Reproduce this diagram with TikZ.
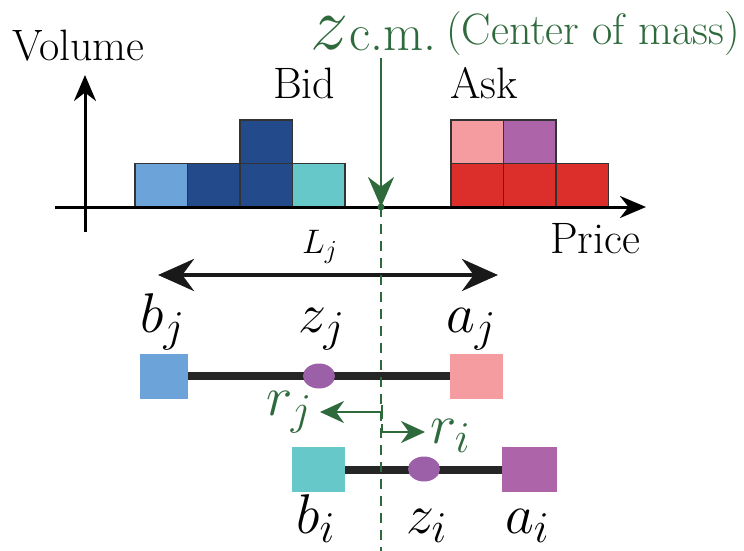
\documentclass[tikz,border=0pt]{standalone}
\usepackage{fix-cm}
\usepackage{fontspec}
\newfontfamily\tms{Latin Modern Roman}
\DeclareMathSizes{56}{56}{44}{36}
\DeclareMathSizes{34}{34}{26}{20}
\usetikzlibrary{arrows.meta,shapes.geometric}
\definecolor{gr}{HTML}{2E6A3C}
\definecolor{lblue}{HTML}{6CA3D8}
\definecolor{dblue}{HTML}{234B8C}
\definecolor{tealc}{HTML}{66C8C8}
\definecolor{pinkc}{HTML}{F49CA0}
\definecolor{purpc}{HTML}{AE64A8}
\definecolor{redc}{HTML}{DC2F2C}
\definecolor{ellc}{HTML}{9B60A8}
\tikzset{
  hsq/.style={draw=black!80, line width=1.5pt},
  txt/.style={inner sep=0pt, anchor=base west, font=\tms\fontsize{44}{50}\selectfont},
  mlab/.style={inner sep=0pt, anchor=base west, font=\fontsize{56}{60}\selectfont},
  endsq/.style={rectangle, inner sep=0pt, minimum width=53pt, minimum height=45pt},
  dot/.style={ellipse, inner sep=0pt, minimum width=32pt, minimum height=25pt, fill=ellc},
  barline/.style={line width=8pt, black!85},
  axis/.style={line width=3pt, -{Stealth[length=26pt,width=22pt]}},
  grline/.style={gr, line width=2.5pt},
  grtip/.style={-{Stealth[length=24pt,width=22pt]}}
}
\begin{document}
\begin{tikzpicture}[x=1pt,y=-1pt]
\useasboundingbox (0,0) rectangle (744,551);
% histogram bid
\foreach \k/\c in {0/lblue,1/dblue,2/dblue,3/tealc}{
  \draw[hsq, fill=\c] (135+\k*52.5,207) rectangle ++(52.5,-43.5);
}
\draw[hsq, fill=dblue] (240,163.5) rectangle ++(52.5,-43.5);
% histogram ask
\foreach \k in {0,1,2}{
  \draw[hsq, fill=redc] (451+\k*52.5,207) rectangle ++(52.5,-43.5);
}
\draw[hsq, fill=pinkc] (451,163.5) rectangle ++(52.5,-43.5);
\draw[hsq, fill=purpc] (503.5,163.5) rectangle ++(52.5,-43.5);
% axes
\coordinate (xs) at (55,207);
\coordinate (xe) at (646,207);
\coordinate (ys) at (85,232);
\coordinate (ye) at (85,75);
\draw[axis] (xs) -- (xe);
\draw[axis] (ys) -- (ye);
\node[txt] (vol) at (12,60) {Volume};
\node[txt] (bid) at (273,98) {Bid};
\node[txt] (ask) at (450,98) {Ask};
\node[txt] (price) at (550,253) {Price};
% centre of mass
\node[inner sep=0pt, anchor=base west, text height=30pt, text depth=0pt, font=\fontsize{76}{80}\selectfont, text=gr] (zcm) at (310,49) {$z$};
\node[inner sep=0pt, anchor=base west, font=\tms\fontsize{52}{56}\selectfont, text=gr] (cm) at (349,51) {c.m.};
\node[txt, text=gr] (com) at (446,45) {(Center of mass)};
\coordinate (gtop) at (381,58);
\coordinate (gdot) at (381,207);
\coordinate (gbot) at (381,551);
\draw[gr, line width=2.5pt, -{Stealth[length=30pt,width=26pt]}] (gtop) -- (gdot);
\fill[gr] (gdot) circle (3.5);
% L_j
\node[inner sep=0pt, anchor=base west, font=\fontsize{34}{38}\selectfont] (lj) at (302,253) {$L_j$};
\coordinate (ll) at (158,275);
\coordinate (lr) at (498,275);
\draw[line width=4.5pt, black!90, {Stealth[length=36pt,width=32pt]}-{Stealth[length=36pt,width=32pt]}] (ll) -- (lr);
% bar j
\node[endsq, fill=lblue, minimum width=48pt] (bjs) at (164,376) {};
\node[endsq, fill=pinkc] (ajs) at (476.5,376) {};
\draw[barline] (bjs.east) -- (ajs.west);
\node[dot] (zjs) at (319,376) {};
\node[mlab] (bj) at (140,332) {$b_j$};
\node[mlab] (zj) at (298,332) {$z_j$};
\node[mlab] (aj) at (446,332) {$a_j$};
% bar i
\node[endsq, fill=tealc] (bis) at (318.5,469.5) {};
\node[endsq, fill=purpc, minimum width=55pt] (ais) at (529.5,469.5) {};
\draw[barline] (bis.east) -- (ais.west);
\node[dot] (zis) at (424,469) {};
\node[mlab] (bi) at (296,533) {$b_i$};
\node[mlab] (zi) at (406,533) {$z_i$};
\node[mlab] (ai) at (505,533) {$a_i$};
% r arrows
\coordinate (rjt) at (382,405);
\coordinate (rjb) at (382,419);
\coordinate (rjs) at (382,412);
\coordinate (rje) at (320,412);
\coordinate (rit) at (382,424);
\coordinate (ris) at (382,432);
\coordinate (rie) at (425,432);
\draw[grline] (rjt) -- (rjb);
\draw[grline, grtip] (rjs) -- (rje);
\draw[grline, grtip] (rit) -- (ris) -- (rie);
\node[mlab, text=gr] (rj) at (266,415) {$r_j$};
\node[mlab, text=gr] (ri) at (430,443) {$r_i$};
% dashed line
\draw[gr, line width=2pt, dash pattern=on 10pt off 7pt] (gdot) -- (gbot);
\end{tikzpicture}
\end{document}
